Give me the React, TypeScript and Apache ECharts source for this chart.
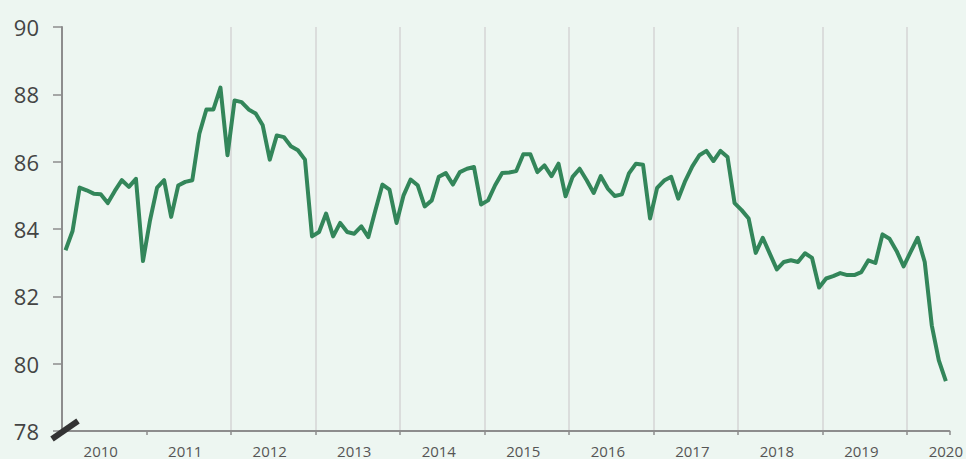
import React, { useEffect, useRef } from "react";
import * as echarts from "echarts";

const years = ["2010", "2011", "2012", "2013", "2014", "2015", "2016", "2017", "2018", "2019", "2020"];
const monthsLastYear = 6;

const v2010 = [83.37, 83.94, 85.23, 85.15, 85.05, 85.03, 84.77, 85.13, 85.45, 85.25, 85.49, 83.05];
const v2011 = [84.26, 85.23, 85.45, 84.36, 85.29, 85.4, 85.45, 86.83, 87.55, 87.55, 88.2, 86.19];
const v2012 = [87.82, 87.77, 87.55, 87.43, 87.08, 86.06, 86.78, 86.73, 86.46, 86.34, 86.06, 83.78];
const v2013 = [83.91, 84.46, 83.78, 84.18, 83.91, 83.86, 84.08, 83.76, 84.56, 85.32, 85.17, 84.18];
const v2014 = [85.0, 85.47, 85.3, 84.67, 84.85, 85.55, 85.66, 85.32, 85.69, 85.79, 85.84, 84.73];
const v2015 = [84.85, 85.3, 85.66, 85.68, 85.72, 86.22, 86.22, 85.69, 85.89, 85.57, 85.94, 84.97];
const v2016 = [85.55, 85.79, 85.45, 85.07, 85.57, 85.2, 84.98, 85.03, 85.65, 85.94, 85.91, 84.31];
const v2017 = [85.22, 85.44, 85.55, 84.9, 85.43, 85.86, 86.19, 86.32, 86.02, 86.32, 86.14, 84.77];
const v2018 = [84.56, 84.31, 83.29, 83.74, 83.27, 82.8, 83.02, 83.07, 83.02, 83.28, 83.14, 82.26];
const v2019 = [82.53, 82.6, 82.69, 82.63, 82.63, 82.72, 83.07, 82.99, 83.84, 83.71, 83.35, 82.89];
const v2020 = [83.32, 83.74, 83.02, 81.14, 80.1, 79.48];

const yTicks = [78, 80, 82, 84, 86, 88, 90];

const values = [
  ...v2010, ...v2011, ...v2012, ...v2013, ...v2014, ...v2015,
  ...v2016, ...v2017, ...v2018, ...v2019, ...v2020,
];

const categories: string[] = [];
years.forEach((y, yi) => {
  const n = yi === years.length - 1 ? monthsLastYear : 12;
  for (let m = 1; m <= n; m++) categories.push(`${y}-${String(m).padStart(2, "0")}`);
});

export default function App() {
  const ref = useRef<HTMLDivElement>(null);
  useEffect(() => {
    if (!ref.current) return;
    const chart = echarts.init(ref.current, undefined, { renderer: "svg" });
    chart.setOption({
      animation: false,
      backgroundColor: "#edf6f1",
      textStyle: { fontFamily: "Open Sans" },
      grid: { left: 62, right: 13, top: 27, bottom: 28, containLabel: false },
      xAxis: {
        type: "category",
        data: categories,
        boundaryGap: true,
        axisLine: { show: true, lineStyle: { color: "#8d8d8d", width: 2 } },
        axisTick: {
          show: true,
          length: 4,
          interval: (i: number) => i % 12 === 0 && i > 0,
          lineStyle: { color: "#8d8d8d", width: 1.5 },
        },
        splitLine: {
          show: true,
          showMinLine: false,
          showMaxLine: false,
          interval: (i: number) => i % 12 === 0 && i > 0,
          lineStyle: { color: "#d4d4d4", width: 1.5 },
        },
        axisLabel: {
          interval: (i: number) => i % 12 === 5,
          formatter: (v: string) => v.slice(0, 4),
          color: "#555",
          fontSize: 15,
          margin: 12,
        },
      },
      yAxis: {
        type: "value",
        min: yTicks[0],
        max: yTicks[yTicks.length - 1],
        interval: 2,
        axisLine: { show: true, lineStyle: { color: "#8d8d8d", width: 2 } },
        axisTick: { show: true, length: 9, lineStyle: { color: "#8d8d8d", width: 1.5 } },
        splitLine: { show: false },
        axisLabel: { color: "#444", fontSize: 22, margin: 23 },
      },
      series: [
        {
          type: "line",
          data: values,
          showSymbol: false,
          symbol: "none",
          lineStyle: { color: "#33865a", width: 4, join: "round" },
          itemStyle: { color: "#33865a" },
        },
      ],
      graphic: [
        {
          type: "line",
          shape: { x1: 52, y1: 439, x2: 78, y2: 421 },
          style: { stroke: "#333", lineWidth: 6 },
          z: 100,
        },
      ],
    });
    return () => chart.dispose();
  }, []);
  return <div ref={ref} style={{ position: "fixed", left: 0, top: 0, width: 966, height: 459 }} />;
}
